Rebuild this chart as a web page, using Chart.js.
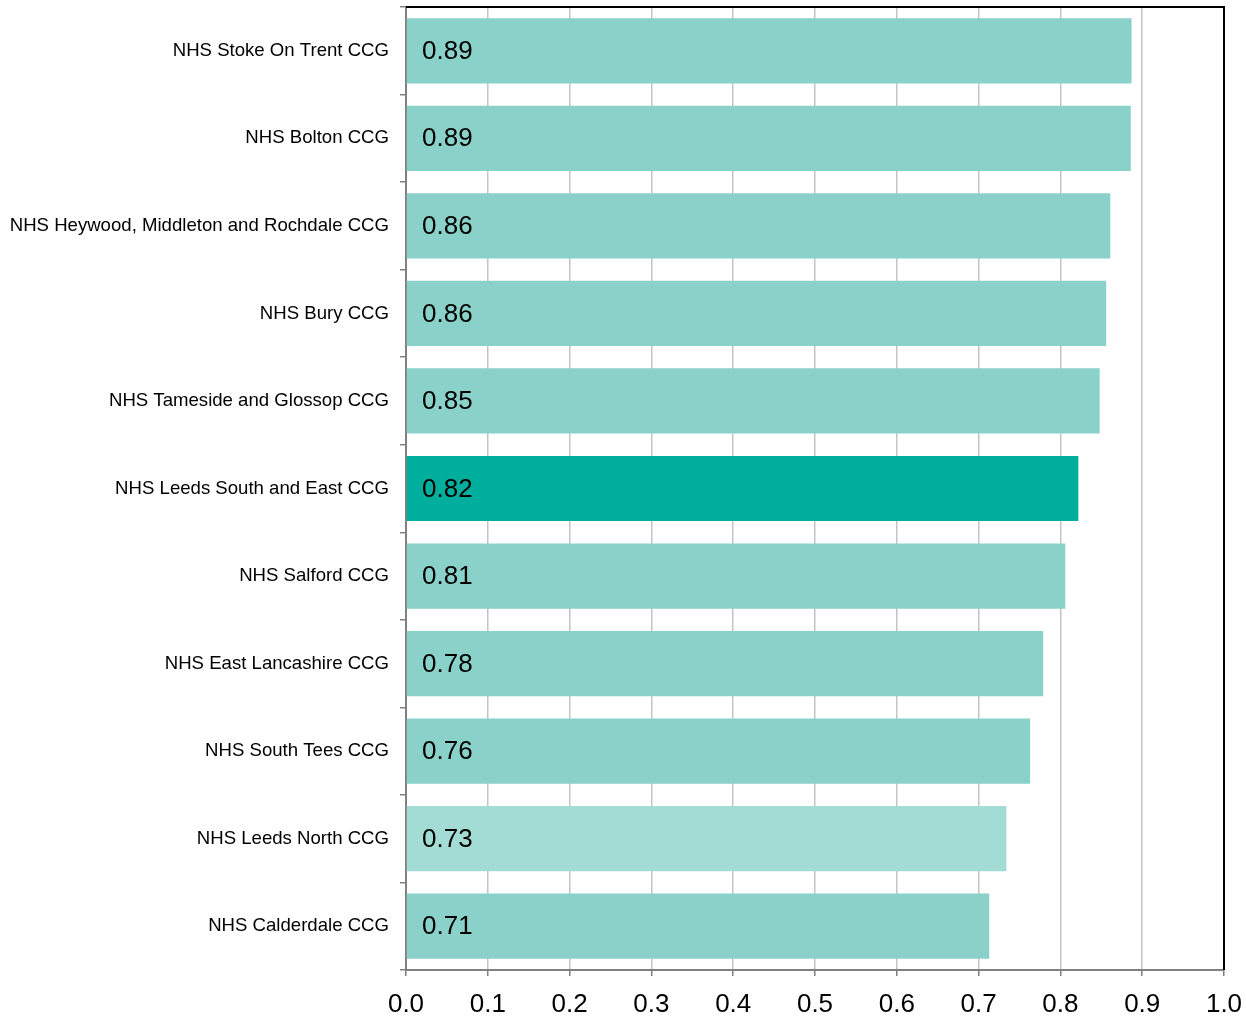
<!DOCTYPE html>
<html>
<head>
<meta charset="utf-8">
<script src="https://cdn.jsdelivr.net/npm/chart.js@4/dist/chart.umd.min.js"></script>
<style>
  html, body { margin: 0; padding: 0; background: #fff; }
  #wrap { width: 1246px; height: 1017px; position: relative; }
</style>
</head>
<body>
<div id="wrap"><canvas id="myChart"></canvas></div>
<script>
var categories = ['NHS Stoke On Trent CCG', 'NHS Bolton CCG', 'NHS Heywood, Middleton and Rochdale CCG', 'NHS Bury CCG',
    'NHS Tameside and Glossop CCG', 'NHS Leeds South and East CCG', 'NHS Salford CCG', 'NHS East Lancashire CCG',
    'NHS South Tees CCG', 'NHS Leeds North CCG', 'NHS Calderdale CCG'];
var values = [0.887, 0.886, 0.861, 0.856, 0.848, 0.822, 0.806, 0.779, 0.763, 0.734, 0.713];
var barColors = ['#8AD1C9', '#8AD1C9', '#8AD1C9', '#8AD1C9', '#8AD1C9', '#00AE9E', '#8AD1C9', '#8AD1C9', '#8AD1C9', '#A3DBD5', '#8AD1C9'];
var xTicks = [0, 0.1, 0.2, 0.3, 0.4, 0.5, 0.6, 0.7, 0.8, 0.9, 1.0];

Chart.defaults.font.family = '"Liberation Sans", Arial, sans-serif';
Chart.defaults.color = '#000';

// value labels inside the bars + black top/right frame
var extras = {
    id: 'extras',
    afterDatasetsDraw: function (chart) {
        var ctx = chart.ctx;
        var meta = chart.getDatasetMeta(0);
        ctx.save();
        ctx.font = '26px "Liberation Sans", Arial, sans-serif';
        ctx.fillStyle = '#000';
        ctx.textBaseline = 'middle';
        meta.data.forEach(function (bar, i) {
            ctx.fillText(values[i].toFixed(2), chart.chartArea.left + 16, bar.y + 1);
        });
        ctx.restore();
    },
    afterDraw: function (chart) {
        var a = chart.chartArea;
        var ctx = chart.ctx;
        ctx.save();
        ctx.strokeStyle = '#000';
        ctx.lineWidth = 2;
        ctx.beginPath();
        ctx.moveTo(a.left, a.top);
        ctx.lineTo(a.right, a.top);
        ctx.lineTo(a.right, a.bottom);
        ctx.stroke();
        ctx.restore();
    }
};

var ctx = document.getElementById('myChart').getContext('2d');
var myChart = new Chart(ctx, {
    type: 'bar',
    data: {
        labels: categories,
        datasets: [{
            data: values,
            backgroundColor: barColors,
            borderWidth: 0,
            barPercentage: 0.745,
            categoryPercentage: 1
        }]
    },
    plugins: [extras],
    options: {
        indexAxis: 'y',
        responsive: true,
        maintainAspectRatio: false,
        animation: false,
        layout: { padding: { top: 7, right: 22, left: 0, bottom: 0 } },
        plugins: {
            legend: { display: false },
            tooltip: { enabled: false }
        },
        scales: {
            x: {
                min: 0,
                max: 1,
                afterBuildTicks: function (axis) {
                    axis.ticks = xTicks.map(function (v) { return { value: v }; });
                },
                afterFit: function (axis) {
                    axis.height = 47;
                    axis.paddingLeft = 0;
                    axis.paddingRight = 0;
                },
                grid: {
                    color: '#C4C4C4',
                    lineWidth: 1.5,
                    tickLength: 6,
                    tickColor: '#808080'
                },
                border: { color: '#808080', width: 2 },
                ticks: {
                    font: { size: 26 },
                    padding: 13,
                    callback: function (v) { return Number(v).toFixed(1); }
                }
            },
            y: {
                afterFit: function (axis) {
                    axis.width = 406;
                    axis.paddingTop = 0;
                    axis.paddingBottom = 0;
                },
                grid: {
                    drawOnChartArea: false,
                    tickLength: 6,
                    tickColor: '#808080',
                    lineWidth: 1.5
                },
                border: { color: '#808080', width: 2 },
                ticks: {
                    font: { size: 18.6 },
                    padding: 11
                }
            }
        }
    }
});
</script>
</body>
</html>
